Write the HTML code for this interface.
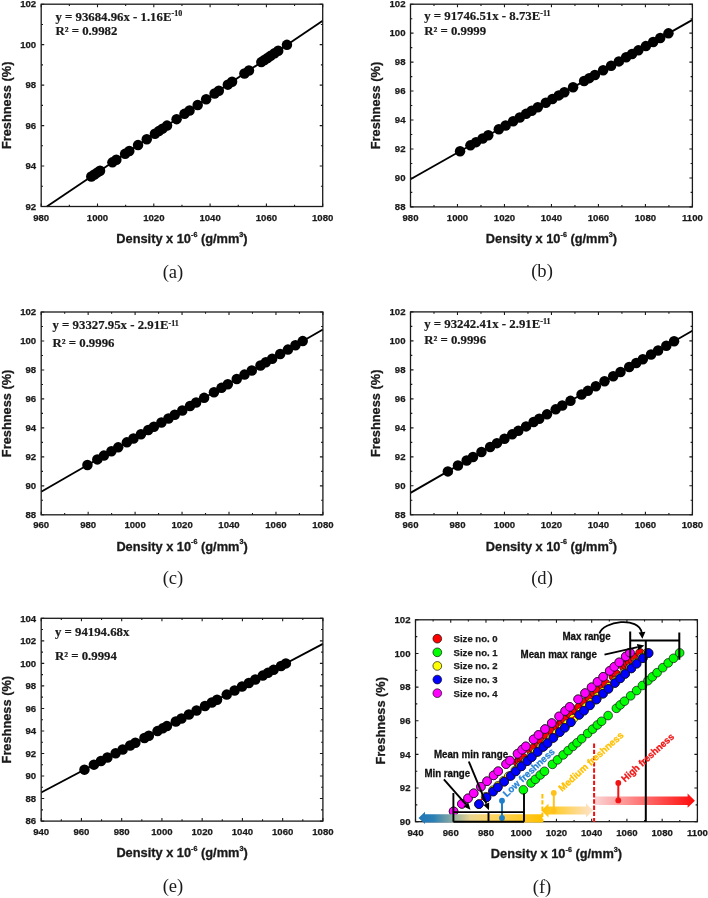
<!DOCTYPE html>
<html lang="en"><head><meta charset="utf-8"><title>Freshness vs density</title>
<style>html,body{margin:0;padding:0;background:#fff}body{width:708px;height:898px;overflow:hidden}</style>
</head><body>
<svg width="708" height="898" viewBox="0 0 708 898" style="display:block">
<rect width="708" height="898" fill="#ffffff"/>
<line x1="46.87" y1="206.5" x2="322.7" y2="20.79" stroke="#000" stroke-width="1.85"/>
<g fill="#000">
<circle cx="91.31" cy="176.58" r="5.25"/>
<circle cx="94.4" cy="174.5" r="5.25"/>
<circle cx="97.5" cy="172.41" r="5.25"/>
<circle cx="100.03" cy="170.71" r="5.25"/>
<circle cx="112.42" cy="162.37" r="5.25"/>
<circle cx="116.36" cy="159.72" r="5.25"/>
<circle cx="125.09" cy="153.84" r="5.25"/>
<circle cx="129.31" cy="151" r="5.25"/>
<circle cx="138.04" cy="145.12" r="5.25"/>
<circle cx="146.76" cy="139.25" r="5.25"/>
<circle cx="154.93" cy="133.75" r="5.25"/>
<circle cx="158.87" cy="131.1" r="5.25"/>
<circle cx="162.53" cy="128.63" r="5.25"/>
<circle cx="167.03" cy="125.6" r="5.25"/>
<circle cx="176.6" cy="119.16" r="5.25"/>
<circle cx="184.48" cy="113.85" r="5.25"/>
<circle cx="189.55" cy="110.44" r="5.25"/>
<circle cx="197.71" cy="104.94" r="5.25"/>
<circle cx="206.16" cy="99.26" r="5.25"/>
<circle cx="214.6" cy="93.57" r="5.25"/>
<circle cx="218.83" cy="90.73" r="5.25"/>
<circle cx="227.83" cy="84.66" r="5.25"/>
<circle cx="232.06" cy="81.82" r="5.25"/>
<circle cx="244.44" cy="73.48" r="5.25"/>
<circle cx="248.95" cy="70.45" r="5.25"/>
<circle cx="261.33" cy="62.11" r="5.25"/>
<circle cx="264.43" cy="60.03" r="5.25"/>
<circle cx="267.53" cy="57.94" r="5.25"/>
<circle cx="270.62" cy="55.86" r="5.25"/>
<circle cx="274.56" cy="53.2" r="5.25"/>
<circle cx="278.22" cy="50.74" r="5.25"/>
<circle cx="286.95" cy="44.86" r="5.25"/>
</g>
<path d="M41.2 206.5v-3.0M41.2 4.2v3.0M69.35 206.5v-1.8M69.35 4.2v1.8M97.5 206.5v-3.0M97.5 4.2v3.0M125.65 206.5v-1.8M125.65 4.2v1.8M153.8 206.5v-3.0M153.8 4.2v3.0M181.95 206.5v-1.8M181.95 4.2v1.8M210.1 206.5v-3.0M210.1 4.2v3.0M238.25 206.5v-1.8M238.25 4.2v1.8M266.4 206.5v-3.0M266.4 4.2v3.0M294.55 206.5v-1.8M294.55 4.2v1.8M322.7 206.5v-3.0M322.7 4.2v3.0M41.2 206.5h3.0M322.7 206.5h-3.0M41.2 186.27h1.8M322.7 186.27h-1.8M41.2 166.04h3.0M322.7 166.04h-3.0M41.2 145.81h1.8M322.7 145.81h-1.8M41.2 125.58h3.0M322.7 125.58h-3.0M41.2 105.35h1.8M322.7 105.35h-1.8M41.2 85.12h3.0M322.7 85.12h-3.0M41.2 64.89h1.8M322.7 64.89h-1.8M41.2 44.66h3.0M322.7 44.66h-3.0M41.2 24.43h1.8M322.7 24.43h-1.8M41.2 4.2h3.0M322.7 4.2h-3.0" stroke="#1a1a1a" stroke-width="1.1" fill="none"/>
<rect x="41.2" y="4.2" width="281.5" height="202.3" fill="none" stroke="#1a1a1a" stroke-width="1.3"/>
<g font-family="'Liberation Sans', Arial, Helvetica, sans-serif" font-weight="bold" font-size="9.6" fill="#1a1a1a" stroke="#1a1a1a" stroke-width="0.25">
<g text-anchor="middle">
<text x="41.2" y="220.6">980</text>
<text x="97.5" y="220.6">1000</text>
<text x="153.8" y="220.6">1020</text>
<text x="210.1" y="220.6">1040</text>
<text x="266.4" y="220.6">1060</text>
<text x="322.7" y="220.6">1080</text>
</g><g text-anchor="end">
<text x="36.2" y="209.7">92</text>
<text x="36.2" y="169.24">94</text>
<text x="36.2" y="128.78">96</text>
<text x="36.2" y="88.32">98</text>
<text x="36.2" y="47.86">100</text>
<text x="36.2" y="7.4">102</text>
</g></g>
<g font-family="'Liberation Sans', Arial, Helvetica, sans-serif" font-weight="bold" font-size="12.8" fill="#1a1a1a" stroke="#1a1a1a" stroke-width="0.3" text-anchor="middle">
<text x="181.95" y="243.4">Density x 10<tspan font-size="7.2" dy="-6.3">-6</tspan><tspan dy="6.3"> (g/mm</tspan><tspan font-size="7.2" dy="-6.3">3</tspan><tspan dy="6.3">)</tspan></text>
<text transform="translate(10.9 105.35) rotate(-90)">Freshness (%)</text>
</g>
<text x="173" y="278.2" font-family="'Liberation Serif', 'Times New Roman', serif" font-size="18.6" fill="#1a1a1a" text-anchor="middle">(a)</text>
<g font-family="'Liberation Serif', 'Times New Roman', serif" font-weight="bold" font-size="12.8" fill="#1a1a1a" stroke="#1a1a1a" stroke-width="0.2">
<text x="55.4" y="21">y = 93684.96x - 1.16E<tspan font-size="8" dy="-4.7">-10</tspan></text>
<text x="55.4" y="35.4">R² = 0.9982</text>
</g>
<line x1="410.5" y1="179.22" x2="692.4" y2="19.82" stroke="#000" stroke-width="1.85"/>
<g fill="#000">
<circle cx="460.07" cy="151.19" r="5.25"/>
<circle cx="470.4" cy="145.35" r="5.25"/>
<circle cx="476.04" cy="142.16" r="5.25"/>
<circle cx="482.62" cy="138.44" r="5.25"/>
<circle cx="488.26" cy="135.25" r="5.25"/>
<circle cx="498.83" cy="129.28" r="5.25"/>
<circle cx="505.64" cy="125.42" r="5.25"/>
<circle cx="513.16" cy="121.17" r="5.25"/>
<circle cx="519.74" cy="117.45" r="5.25"/>
<circle cx="526.08" cy="113.87" r="5.25"/>
<circle cx="531.72" cy="110.68" r="5.25"/>
<circle cx="537.82" cy="107.23" r="5.25"/>
<circle cx="545.81" cy="102.71" r="5.25"/>
<circle cx="552.39" cy="98.99" r="5.25"/>
<circle cx="558.73" cy="95.4" r="5.25"/>
<circle cx="564.37" cy="92.22" r="5.25"/>
<circle cx="573.06" cy="87.3" r="5.25"/>
<circle cx="584.1" cy="81.06" r="5.25"/>
<circle cx="589.27" cy="78.13" r="5.25"/>
<circle cx="594.91" cy="74.95" r="5.25"/>
<circle cx="603.13" cy="70.3" r="5.25"/>
<circle cx="611.12" cy="65.78" r="5.25"/>
<circle cx="618.87" cy="61.4" r="5.25"/>
<circle cx="626.15" cy="57.28" r="5.25"/>
<circle cx="632.03" cy="53.96" r="5.25"/>
<circle cx="638.37" cy="50.37" r="5.25"/>
<circle cx="645.89" cy="46.12" r="5.25"/>
<circle cx="653.17" cy="42" r="5.25"/>
<circle cx="660.22" cy="38.02" r="5.25"/>
<circle cx="668.44" cy="33.37" r="5.25"/>
</g>
<path d="M410.5 206.9v-3.0M410.5 4.2v3.0M433.99 206.9v-1.8M433.99 4.2v1.8M457.48 206.9v-3.0M457.48 4.2v3.0M480.98 206.9v-1.8M480.98 4.2v1.8M504.47 206.9v-3.0M504.47 4.2v3.0M527.96 206.9v-1.8M527.96 4.2v1.8M551.45 206.9v-3.0M551.45 4.2v3.0M574.94 206.9v-1.8M574.94 4.2v1.8M598.43 206.9v-3.0M598.43 4.2v3.0M621.92 206.9v-1.8M621.92 4.2v1.8M645.42 206.9v-3.0M645.42 4.2v3.0M668.91 206.9v-1.8M668.91 4.2v1.8M692.4 206.9v-3.0M692.4 4.2v3.0M410.5 206.9h3.0M692.4 206.9h-3.0M410.5 192.42h1.8M692.4 192.42h-1.8M410.5 177.94h3.0M692.4 177.94h-3.0M410.5 163.46h1.8M692.4 163.46h-1.8M410.5 148.99h3.0M692.4 148.99h-3.0M410.5 134.51h1.8M692.4 134.51h-1.8M410.5 120.03h3.0M692.4 120.03h-3.0M410.5 105.55h1.8M692.4 105.55h-1.8M410.5 91.07h3.0M692.4 91.07h-3.0M410.5 76.59h1.8M692.4 76.59h-1.8M410.5 62.11h3.0M692.4 62.11h-3.0M410.5 47.64h1.8M692.4 47.64h-1.8M410.5 33.16h3.0M692.4 33.16h-3.0M410.5 18.68h1.8M692.4 18.68h-1.8M410.5 4.2h3.0M692.4 4.2h-3.0" stroke="#1a1a1a" stroke-width="1.1" fill="none"/>
<rect x="410.5" y="4.2" width="281.9" height="202.7" fill="none" stroke="#1a1a1a" stroke-width="1.3"/>
<g font-family="'Liberation Sans', Arial, Helvetica, sans-serif" font-weight="bold" font-size="9.6" fill="#1a1a1a" stroke="#1a1a1a" stroke-width="0.25">
<g text-anchor="middle">
<text x="410.5" y="220.7">980</text>
<text x="457.48" y="220.7">1000</text>
<text x="504.47" y="220.7">1020</text>
<text x="551.45" y="220.7">1040</text>
<text x="598.43" y="220.7">1060</text>
<text x="645.42" y="220.7">1080</text>
<text x="692.4" y="220.7">1100</text>
</g><g text-anchor="end">
<text x="405.5" y="210.1">88</text>
<text x="405.5" y="181.14">90</text>
<text x="405.5" y="152.19">92</text>
<text x="405.5" y="123.23">94</text>
<text x="405.5" y="94.27">96</text>
<text x="405.5" y="65.31">98</text>
<text x="405.5" y="36.36">100</text>
<text x="405.5" y="7.4">102</text>
</g></g>
<g font-family="'Liberation Sans', Arial, Helvetica, sans-serif" font-weight="bold" font-size="12.8" fill="#1a1a1a" stroke="#1a1a1a" stroke-width="0.3" text-anchor="middle">
<text x="551.45" y="243.1">Density x 10<tspan font-size="7.2" dy="-6.3">-6</tspan><tspan dy="6.3"> (g/mm</tspan><tspan font-size="7.2" dy="-6.3">3</tspan><tspan dy="6.3">)</tspan></text>
<text transform="translate(380.2 105.55) rotate(-90)">Freshness (%)</text>
</g>
<text x="542" y="277.4" font-family="'Liberation Serif', 'Times New Roman', serif" font-size="18.6" fill="#1a1a1a" text-anchor="middle">(b)</text>
<g font-family="'Liberation Serif', 'Times New Roman', serif" font-weight="bold" font-size="12.8" fill="#1a1a1a" stroke="#1a1a1a" stroke-width="0.2">
<text x="424.2" y="20.4">y = 91746.51x - 8.73E<tspan font-size="8" dy="-4.1">-11</tspan></text>
<text x="424.2" y="34.7">R² = 0.9999</text>
</g>
<line x1="41.2" y1="491.7" x2="322.9" y2="329.47" stroke="#000" stroke-width="1.85"/>
<g fill="#000">
<circle cx="87.45" cy="465.06" r="5.25"/>
<circle cx="97.31" cy="459.39" r="5.25"/>
<circle cx="103.88" cy="455.6" r="5.25"/>
<circle cx="111.39" cy="451.28" r="5.25"/>
<circle cx="118.2" cy="447.35" r="5.25"/>
<circle cx="126.88" cy="442.35" r="5.25"/>
<circle cx="133.46" cy="438.57" r="5.25"/>
<circle cx="140.97" cy="434.24" r="5.25"/>
<circle cx="148.25" cy="430.05" r="5.25"/>
<circle cx="153.88" cy="426.81" r="5.25"/>
<circle cx="161.39" cy="422.48" r="5.25"/>
<circle cx="168.43" cy="418.42" r="5.25"/>
<circle cx="174.77" cy="414.77" r="5.25"/>
<circle cx="182.28" cy="410.45" r="5.25"/>
<circle cx="190.03" cy="405.99" r="5.25"/>
<circle cx="196.13" cy="402.47" r="5.25"/>
<circle cx="204.12" cy="397.87" r="5.25"/>
<circle cx="213.98" cy="392.2" r="5.25"/>
<circle cx="221.49" cy="387.87" r="5.25"/>
<circle cx="227.83" cy="384.22" r="5.25"/>
<circle cx="236.75" cy="379.08" r="5.25"/>
<circle cx="244.49" cy="374.62" r="5.25"/>
<circle cx="251.77" cy="370.43" r="5.25"/>
<circle cx="260.46" cy="365.43" r="5.25"/>
<circle cx="265.86" cy="362.32" r="5.25"/>
<circle cx="272.19" cy="358.67" r="5.25"/>
<circle cx="280.18" cy="354.07" r="5.25"/>
<circle cx="287.92" cy="349.61" r="5.25"/>
<circle cx="295.43" cy="345.28" r="5.25"/>
<circle cx="302.71" cy="341.09" r="5.25"/>
</g>
<path d="M41.2 514.8v-3.0M41.2 312v3.0M64.67 514.8v-1.8M64.67 312v1.8M88.15 514.8v-3.0M88.15 312v3.0M111.62 514.8v-1.8M111.62 312v1.8M135.1 514.8v-3.0M135.1 312v3.0M158.57 514.8v-1.8M158.57 312v1.8M182.05 514.8v-3.0M182.05 312v3.0M205.52 514.8v-1.8M205.52 312v1.8M229 514.8v-3.0M229 312v3.0M252.47 514.8v-1.8M252.47 312v1.8M275.95 514.8v-3.0M275.95 312v3.0M299.42 514.8v-1.8M299.42 312v1.8M322.9 514.8v-3.0M322.9 312v3.0M41.2 514.8h3.0M322.9 514.8h-3.0M41.2 500.31h1.8M322.9 500.31h-1.8M41.2 485.83h3.0M322.9 485.83h-3.0M41.2 471.34h1.8M322.9 471.34h-1.8M41.2 456.86h3.0M322.9 456.86h-3.0M41.2 442.37h1.8M322.9 442.37h-1.8M41.2 427.89h3.0M322.9 427.89h-3.0M41.2 413.4h1.8M322.9 413.4h-1.8M41.2 398.91h3.0M322.9 398.91h-3.0M41.2 384.43h1.8M322.9 384.43h-1.8M41.2 369.94h3.0M322.9 369.94h-3.0M41.2 355.46h1.8M322.9 355.46h-1.8M41.2 340.97h3.0M322.9 340.97h-3.0M41.2 326.49h1.8M322.9 326.49h-1.8M41.2 312h3.0M322.9 312h-3.0" stroke="#1a1a1a" stroke-width="1.1" fill="none"/>
<rect x="41.2" y="312" width="281.7" height="202.8" fill="none" stroke="#1a1a1a" stroke-width="1.3"/>
<g font-family="'Liberation Sans', Arial, Helvetica, sans-serif" font-weight="bold" font-size="9.6" fill="#1a1a1a" stroke="#1a1a1a" stroke-width="0.25">
<g text-anchor="middle">
<text x="41.2" y="528.1">960</text>
<text x="88.15" y="528.1">980</text>
<text x="135.1" y="528.1">1000</text>
<text x="182.05" y="528.1">1020</text>
<text x="229" y="528.1">1040</text>
<text x="275.95" y="528.1">1060</text>
<text x="322.9" y="528.1">1080</text>
</g><g text-anchor="end">
<text x="36.2" y="518">88</text>
<text x="36.2" y="489.03">90</text>
<text x="36.2" y="460.06">92</text>
<text x="36.2" y="431.09">94</text>
<text x="36.2" y="402.11">96</text>
<text x="36.2" y="373.14">98</text>
<text x="36.2" y="344.17">100</text>
<text x="36.2" y="315.2">102</text>
</g></g>
<g font-family="'Liberation Sans', Arial, Helvetica, sans-serif" font-weight="bold" font-size="12.8" fill="#1a1a1a" stroke="#1a1a1a" stroke-width="0.3" text-anchor="middle">
<text x="182.05" y="550.5">Density x 10<tspan font-size="7.2" dy="-6.3">-6</tspan><tspan dy="6.3"> (g/mm</tspan><tspan font-size="7.2" dy="-6.3">3</tspan><tspan dy="6.3">)</tspan></text>
<text transform="translate(10.9 413.4) rotate(-90)">Freshness (%)</text>
</g>
<text x="173" y="584.2" font-family="'Liberation Serif', 'Times New Roman', serif" font-size="18.6" fill="#1a1a1a" text-anchor="middle">(c)</text>
<g font-family="'Liberation Serif', 'Times New Roman', serif" font-weight="bold" font-size="12.8" fill="#1a1a1a" stroke="#1a1a1a" stroke-width="0.2">
<text x="52.5" y="329.2">y = 93327.95x - 2.91E<tspan font-size="8" dy="-3.1">-11</tspan></text>
<text x="52.5" y="346.5">R² = 0.9996</text>
</g>
<line x1="410.5" y1="492.88" x2="692.4" y2="330.71" stroke="#000" stroke-width="1.85"/>
<g fill="#000">
<circle cx="447.85" cy="471.39" r="5.25"/>
<circle cx="457.95" cy="465.58" r="5.25"/>
<circle cx="466.65" cy="460.58" r="5.25"/>
<circle cx="472.99" cy="456.93" r="5.25"/>
<circle cx="481.44" cy="452.07" r="5.25"/>
<circle cx="490.14" cy="447.07" r="5.25"/>
<circle cx="496.95" cy="443.15" r="5.25"/>
<circle cx="504.47" cy="438.82" r="5.25"/>
<circle cx="512.22" cy="434.36" r="5.25"/>
<circle cx="518.33" cy="430.85" r="5.25"/>
<circle cx="526.08" cy="426.39" r="5.25"/>
<circle cx="533.6" cy="422.07" r="5.25"/>
<circle cx="539.23" cy="418.82" r="5.25"/>
<circle cx="546.99" cy="414.36" r="5.25"/>
<circle cx="555.68" cy="409.36" r="5.25"/>
<circle cx="562.26" cy="405.58" r="5.25"/>
<circle cx="570.48" cy="400.85" r="5.25"/>
<circle cx="581.52" cy="394.5" r="5.25"/>
<circle cx="587.86" cy="390.85" r="5.25"/>
<circle cx="595.85" cy="386.26" r="5.25"/>
<circle cx="604.54" cy="381.26" r="5.25"/>
<circle cx="613.23" cy="376.26" r="5.25"/>
<circle cx="620.52" cy="372.07" r="5.25"/>
<circle cx="629.21" cy="367.07" r="5.25"/>
<circle cx="636.25" cy="363.01" r="5.25"/>
<circle cx="642.83" cy="359.23" r="5.25"/>
<circle cx="651.05" cy="354.5" r="5.25"/>
<circle cx="658.1" cy="350.44" r="5.25"/>
<circle cx="666.32" cy="345.71" r="5.25"/>
<circle cx="674.08" cy="341.26" r="5.25"/>
</g>
<path d="M410.5 514.8v-3.0M410.5 311.9v3.0M433.99 514.8v-1.8M433.99 311.9v1.8M457.48 514.8v-3.0M457.48 311.9v3.0M480.98 514.8v-1.8M480.98 311.9v1.8M504.47 514.8v-3.0M504.47 311.9v3.0M527.96 514.8v-1.8M527.96 311.9v1.8M551.45 514.8v-3.0M551.45 311.9v3.0M574.94 514.8v-1.8M574.94 311.9v1.8M598.43 514.8v-3.0M598.43 311.9v3.0M621.92 514.8v-1.8M621.92 311.9v1.8M645.42 514.8v-3.0M645.42 311.9v3.0M668.91 514.8v-1.8M668.91 311.9v1.8M692.4 514.8v-3.0M692.4 311.9v3.0M410.5 514.8h3.0M692.4 514.8h-3.0M410.5 500.31h1.8M692.4 500.31h-1.8M410.5 485.81h3.0M692.4 485.81h-3.0M410.5 471.32h1.8M692.4 471.32h-1.8M410.5 456.83h3.0M692.4 456.83h-3.0M410.5 442.34h1.8M692.4 442.34h-1.8M410.5 427.84h3.0M692.4 427.84h-3.0M410.5 413.35h1.8M692.4 413.35h-1.8M410.5 398.86h3.0M692.4 398.86h-3.0M410.5 384.36h1.8M692.4 384.36h-1.8M410.5 369.87h3.0M692.4 369.87h-3.0M410.5 355.38h1.8M692.4 355.38h-1.8M410.5 340.89h3.0M692.4 340.89h-3.0M410.5 326.39h1.8M692.4 326.39h-1.8M410.5 311.9h3.0M692.4 311.9h-3.0" stroke="#1a1a1a" stroke-width="1.1" fill="none"/>
<rect x="410.5" y="311.9" width="281.9" height="202.9" fill="none" stroke="#1a1a1a" stroke-width="1.3"/>
<g font-family="'Liberation Sans', Arial, Helvetica, sans-serif" font-weight="bold" font-size="9.6" fill="#1a1a1a" stroke="#1a1a1a" stroke-width="0.25">
<g text-anchor="middle">
<text x="410.5" y="528.4">960</text>
<text x="457.48" y="528.4">980</text>
<text x="504.47" y="528.4">1000</text>
<text x="551.45" y="528.4">1020</text>
<text x="598.43" y="528.4">1040</text>
<text x="645.42" y="528.4">1060</text>
<text x="692.4" y="528.4">1080</text>
</g><g text-anchor="end">
<text x="405.5" y="518">88</text>
<text x="405.5" y="489.01">90</text>
<text x="405.5" y="460.03">92</text>
<text x="405.5" y="431.04">94</text>
<text x="405.5" y="402.06">96</text>
<text x="405.5" y="373.07">98</text>
<text x="405.5" y="344.09">100</text>
<text x="405.5" y="315.1">102</text>
</g></g>
<g font-family="'Liberation Sans', Arial, Helvetica, sans-serif" font-weight="bold" font-size="12.8" fill="#1a1a1a" stroke="#1a1a1a" stroke-width="0.3" text-anchor="middle">
<text x="551.45" y="550.5">Density x 10<tspan font-size="7.2" dy="-6.3">-6</tspan><tspan dy="6.3"> (g/mm</tspan><tspan font-size="7.2" dy="-6.3">3</tspan><tspan dy="6.3">)</tspan></text>
<text transform="translate(380.2 413.35) rotate(-90)">Freshness (%)</text>
</g>
<text x="542" y="584.3" font-family="'Liberation Serif', 'Times New Roman', serif" font-size="18.6" fill="#1a1a1a" text-anchor="middle">(d)</text>
<g font-family="'Liberation Serif', 'Times New Roman', serif" font-weight="bold" font-size="12.8" fill="#1a1a1a" stroke="#1a1a1a" stroke-width="0.2">
<text x="424.2" y="327.6">y = 93242.41x - 2.91E<tspan font-size="8" dy="-4.1">-11</tspan></text>
<text x="424.2" y="344.3">R² = 0.9996</text>
</g>
<line x1="41.2" y1="792.45" x2="322.9" y2="643.87" stroke="#000" stroke-width="1.85"/>
<g fill="#000">
<circle cx="84.46" cy="769.63" r="5.25"/>
<circle cx="93.92" cy="764.64" r="5.25"/>
<circle cx="100.96" cy="760.93" r="5.25"/>
<circle cx="107.4" cy="757.53" r="5.25"/>
<circle cx="115.65" cy="753.18" r="5.25"/>
<circle cx="122.69" cy="749.47" r="5.25"/>
<circle cx="130.14" cy="745.54" r="5.25"/>
<circle cx="135.37" cy="742.78" r="5.25"/>
<circle cx="144.42" cy="738.01" r="5.25"/>
<circle cx="148.85" cy="735.67" r="5.25"/>
<circle cx="157.5" cy="731.11" r="5.25"/>
<circle cx="162.73" cy="728.35" r="5.25"/>
<circle cx="166.96" cy="726.12" r="5.25"/>
<circle cx="175.81" cy="721.45" r="5.25"/>
<circle cx="181.45" cy="718.48" r="5.25"/>
<circle cx="188.89" cy="714.55" r="5.25"/>
<circle cx="196.54" cy="710.52" r="5.25"/>
<circle cx="204.99" cy="706.06" r="5.25"/>
<circle cx="211.83" cy="702.45" r="5.25"/>
<circle cx="217.06" cy="699.69" r="5.25"/>
<circle cx="226.72" cy="694.6" r="5.25"/>
<circle cx="234.57" cy="690.46" r="5.25"/>
<circle cx="242.01" cy="686.54" r="5.25"/>
<circle cx="248.85" cy="682.93" r="5.25"/>
<circle cx="255.29" cy="679.53" r="5.25"/>
<circle cx="262.74" cy="675.6" r="5.25"/>
<circle cx="267.97" cy="672.84" r="5.25"/>
<circle cx="273.6" cy="669.87" r="5.25"/>
<circle cx="281.05" cy="665.95" r="5.25"/>
<circle cx="285.88" cy="663.4" r="5.25"/>
</g>
<path d="M41.2 821.1v-3.0M41.2 618.3v3.0M61.32 821.1v-1.8M61.32 618.3v1.8M81.44 821.1v-3.0M81.44 618.3v3.0M101.56 821.1v-1.8M101.56 618.3v1.8M121.69 821.1v-3.0M121.69 618.3v3.0M141.81 821.1v-1.8M141.81 618.3v1.8M161.93 821.1v-3.0M161.93 618.3v3.0M182.05 821.1v-1.8M182.05 618.3v1.8M202.17 821.1v-3.0M202.17 618.3v3.0M222.29 821.1v-1.8M222.29 618.3v1.8M242.41 821.1v-3.0M242.41 618.3v3.0M262.54 821.1v-1.8M262.54 618.3v1.8M282.66 821.1v-3.0M282.66 618.3v3.0M302.78 821.1v-1.8M302.78 618.3v1.8M322.9 821.1v-3.0M322.9 618.3v3.0M41.2 821.1h3.0M322.9 821.1h-3.0M41.2 809.83h1.8M322.9 809.83h-1.8M41.2 798.57h3.0M322.9 798.57h-3.0M41.2 787.3h1.8M322.9 787.3h-1.8M41.2 776.03h3.0M322.9 776.03h-3.0M41.2 764.77h1.8M322.9 764.77h-1.8M41.2 753.5h3.0M322.9 753.5h-3.0M41.2 742.23h1.8M322.9 742.23h-1.8M41.2 730.97h3.0M322.9 730.97h-3.0M41.2 719.7h1.8M322.9 719.7h-1.8M41.2 708.43h3.0M322.9 708.43h-3.0M41.2 697.17h1.8M322.9 697.17h-1.8M41.2 685.9h3.0M322.9 685.9h-3.0M41.2 674.63h1.8M322.9 674.63h-1.8M41.2 663.37h3.0M322.9 663.37h-3.0M41.2 652.1h1.8M322.9 652.1h-1.8M41.2 640.83h3.0M322.9 640.83h-3.0M41.2 629.57h1.8M322.9 629.57h-1.8M41.2 618.3h3.0M322.9 618.3h-3.0" stroke="#1a1a1a" stroke-width="1.1" fill="none"/>
<rect x="41.2" y="618.3" width="281.7" height="202.8" fill="none" stroke="#1a1a1a" stroke-width="1.3"/>
<g font-family="'Liberation Sans', Arial, Helvetica, sans-serif" font-weight="bold" font-size="9.6" fill="#1a1a1a" stroke="#1a1a1a" stroke-width="0.25">
<g text-anchor="middle">
<text x="41.2" y="834.6">940</text>
<text x="81.44" y="834.6">960</text>
<text x="121.69" y="834.6">980</text>
<text x="161.93" y="834.6">1000</text>
<text x="202.17" y="834.6">1020</text>
<text x="242.41" y="834.6">1040</text>
<text x="282.66" y="834.6">1060</text>
<text x="322.9" y="834.6">1080</text>
</g><g text-anchor="end">
<text x="36.2" y="824.3">86</text>
<text x="36.2" y="801.77">88</text>
<text x="36.2" y="779.23">90</text>
<text x="36.2" y="756.7">92</text>
<text x="36.2" y="734.17">94</text>
<text x="36.2" y="711.63">96</text>
<text x="36.2" y="689.1">98</text>
<text x="36.2" y="666.57">100</text>
<text x="36.2" y="644.03">102</text>
<text x="36.2" y="621.5">104</text>
</g></g>
<g font-family="'Liberation Sans', Arial, Helvetica, sans-serif" font-weight="bold" font-size="12.8" fill="#1a1a1a" stroke="#1a1a1a" stroke-width="0.3" text-anchor="middle">
<text x="182.05" y="857.3">Density x 10<tspan font-size="7.2" dy="-6.3">-6</tspan><tspan dy="6.3"> (g/mm</tspan><tspan font-size="7.2" dy="-6.3">3</tspan><tspan dy="6.3">)</tspan></text>
<text transform="translate(10.9 719.7) rotate(-90)">Freshness (%)</text>
</g>
<text x="173" y="891.8" font-family="'Liberation Serif', 'Times New Roman', serif" font-size="18.6" fill="#1a1a1a" text-anchor="middle">(e)</text>
<g font-family="'Liberation Serif', 'Times New Roman', serif" font-weight="bold" font-size="12.8" fill="#1a1a1a" stroke="#1a1a1a" stroke-width="0.2">
<text x="54.9" y="636.2">y = 94194.68x</text>
<text x="54.9" y="659.9">R² = 0.9994</text>
</g>
<defs>
<linearGradient id="gB" x1="0" x2="1" y1="0" y2="0"><stop offset="0" stop-color="#1f77b8"/><stop offset="0.12" stop-color="#2a7fb5"/><stop offset="0.42" stop-color="#e9d48e"/><stop offset="0.6" stop-color="#ffd560"/><stop offset="1" stop-color="#ffc000"/></linearGradient>
<linearGradient id="gY" x1="0" x2="1" y1="0" y2="0"><stop offset="0" stop-color="#ffc000"/><stop offset="0.35" stop-color="#ffcf40"/><stop offset="1" stop-color="#fde3cf"/></linearGradient>
<linearGradient id="gR" x1="0" x2="1" y1="0" y2="0"><stop offset="0" stop-color="#fbd3d3"/><stop offset="0.5" stop-color="#ff6d6d"/><stop offset="1" stop-color="#ff0a0a"/></linearGradient>
</defs>
<g fill="#ff0000" stroke="#111" stroke-width="0.7">
<circle cx="517.54" cy="762.37" r="4.35"/>
<circle cx="519.47" cy="760.63" r="4.35"/>
<circle cx="521.41" cy="758.9" r="4.35"/>
<circle cx="523" cy="757.48" r="4.35"/>
<circle cx="530.75" cy="750.55" r="4.35"/>
<circle cx="533.22" cy="748.34" r="4.35"/>
<circle cx="538.68" cy="743.45" r="4.35"/>
<circle cx="541.32" cy="741.09" r="4.35"/>
<circle cx="546.78" cy="736.2" r="4.35"/>
<circle cx="552.25" cy="731.32" r="4.35"/>
<circle cx="557.35" cy="726.75" r="4.35"/>
<circle cx="559.82" cy="724.54" r="4.35"/>
<circle cx="562.11" cy="722.49" r="4.35"/>
<circle cx="564.93" cy="719.97" r="4.35"/>
<circle cx="570.92" cy="714.61" r="4.35"/>
<circle cx="575.85" cy="710.19" r="4.35"/>
<circle cx="579.03" cy="707.36" r="4.35"/>
<circle cx="584.14" cy="702.79" r="4.35"/>
<circle cx="589.42" cy="698.06" r="4.35"/>
<circle cx="594.71" cy="693.33" r="4.35"/>
<circle cx="597.35" cy="690.96" r="4.35"/>
<circle cx="602.99" cy="685.92" r="4.35"/>
<circle cx="605.63" cy="683.56" r="4.35"/>
<circle cx="613.38" cy="676.62" r="4.35"/>
<circle cx="616.2" cy="674.1" r="4.35"/>
<circle cx="623.95" cy="667.16" r="4.35"/>
<circle cx="625.89" cy="665.43" r="4.35"/>
<circle cx="627.83" cy="663.7" r="4.35"/>
<circle cx="629.77" cy="661.96" r="4.35"/>
<circle cx="632.23" cy="659.75" r="4.35"/>
<circle cx="634.52" cy="657.71" r="4.35"/>
<circle cx="639.99" cy="652.82" r="4.35"/>
</g>
<g fill="#00ff00" stroke="#111" stroke-width="0.7">
<circle cx="523.35" cy="789.82" r="4.35"/>
<circle cx="531.1" cy="783.02" r="4.35"/>
<circle cx="535.33" cy="779.32" r="4.35"/>
<circle cx="540.26" cy="775" r="4.35"/>
<circle cx="544.49" cy="771.29" r="4.35"/>
<circle cx="552.42" cy="764.35" r="4.35"/>
<circle cx="557.53" cy="759.87" r="4.35"/>
<circle cx="563.17" cy="754.93" r="4.35"/>
<circle cx="568.1" cy="750.61" r="4.35"/>
<circle cx="572.86" cy="746.44" r="4.35"/>
<circle cx="577.09" cy="742.74" r="4.35"/>
<circle cx="581.67" cy="738.72" r="4.35"/>
<circle cx="587.66" cy="733.47" r="4.35"/>
<circle cx="592.59" cy="729.15" r="4.35"/>
<circle cx="597.35" cy="724.98" r="4.35"/>
<circle cx="601.58" cy="721.28" r="4.35"/>
<circle cx="608.1" cy="715.57" r="4.35"/>
<circle cx="616.38" cy="708.31" r="4.35"/>
<circle cx="620.25" cy="704.92" r="4.35"/>
<circle cx="624.48" cy="701.21" r="4.35"/>
<circle cx="630.65" cy="695.81" r="4.35"/>
<circle cx="636.64" cy="690.56" r="4.35"/>
<circle cx="642.45" cy="685.47" r="4.35"/>
<circle cx="647.92" cy="680.68" r="4.35"/>
<circle cx="652.32" cy="676.82" r="4.35"/>
<circle cx="657.08" cy="672.66" r="4.35"/>
<circle cx="662.71" cy="667.72" r="4.35"/>
<circle cx="668.18" cy="662.93" r="4.35"/>
<circle cx="673.46" cy="658.3" r="4.35"/>
<circle cx="679.63" cy="652.9" r="4.35"/>
</g>
<g fill="#ffff00" stroke="#111" stroke-width="0.7">
<circle cx="485.65" cy="796.78" r="4.35"/>
<circle cx="493.05" cy="790.19" r="4.35"/>
<circle cx="497.98" cy="785.79" r="4.35"/>
<circle cx="503.62" cy="780.77" r="4.35"/>
<circle cx="508.73" cy="776.21" r="4.35"/>
<circle cx="515.25" cy="770.4" r="4.35"/>
<circle cx="520.18" cy="766.01" r="4.35"/>
<circle cx="525.82" cy="760.98" r="4.35"/>
<circle cx="531.28" cy="756.11" r="4.35"/>
<circle cx="535.51" cy="752.35" r="4.35"/>
<circle cx="541.15" cy="747.32" r="4.35"/>
<circle cx="546.43" cy="742.61" r="4.35"/>
<circle cx="551.19" cy="738.37" r="4.35"/>
<circle cx="556.83" cy="733.35" r="4.35"/>
<circle cx="562.64" cy="728.16" r="4.35"/>
<circle cx="567.22" cy="724.08" r="4.35"/>
<circle cx="573.21" cy="718.74" r="4.35"/>
<circle cx="580.61" cy="712.15" r="4.35"/>
<circle cx="586.25" cy="707.12" r="4.35"/>
<circle cx="591.01" cy="702.88" r="4.35"/>
<circle cx="597.7" cy="696.92" r="4.35"/>
<circle cx="603.52" cy="691.73" r="4.35"/>
<circle cx="608.98" cy="686.87" r="4.35"/>
<circle cx="615.5" cy="681.06" r="4.35"/>
<circle cx="619.55" cy="677.44" r="4.35"/>
<circle cx="624.31" cy="673.21" r="4.35"/>
<circle cx="630.3" cy="667.87" r="4.35"/>
<circle cx="636.11" cy="662.68" r="4.35"/>
<circle cx="641.75" cy="657.66" r="4.35"/>
<circle cx="647.21" cy="652.79" r="4.35"/>
</g>
<g fill="#0000ff" stroke="#111" stroke-width="0.7">
<circle cx="478.95" cy="804.15" r="4.35"/>
<circle cx="486.53" cy="797.41" r="4.35"/>
<circle cx="493.05" cy="791.6" r="4.35"/>
<circle cx="497.8" cy="787.37" r="4.35"/>
<circle cx="504.15" cy="781.72" r="4.35"/>
<circle cx="510.67" cy="775.92" r="4.35"/>
<circle cx="515.77" cy="771.37" r="4.35"/>
<circle cx="521.41" cy="766.35" r="4.35"/>
<circle cx="527.23" cy="761.17" r="4.35"/>
<circle cx="531.81" cy="757.09" r="4.35"/>
<circle cx="537.62" cy="751.91" r="4.35"/>
<circle cx="543.26" cy="746.89" r="4.35"/>
<circle cx="547.49" cy="743.13" r="4.35"/>
<circle cx="553.3" cy="737.95" r="4.35"/>
<circle cx="559.82" cy="732.15" r="4.35"/>
<circle cx="564.75" cy="727.75" r="4.35"/>
<circle cx="570.92" cy="722.26" r="4.35"/>
<circle cx="579.2" cy="714.89" r="4.35"/>
<circle cx="583.96" cy="710.65" r="4.35"/>
<circle cx="589.95" cy="705.32" r="4.35"/>
<circle cx="596.47" cy="699.52" r="4.35"/>
<circle cx="602.99" cy="693.71" r="4.35"/>
<circle cx="608.45" cy="688.85" r="4.35"/>
<circle cx="614.97" cy="683.04" r="4.35"/>
<circle cx="620.25" cy="678.34" r="4.35"/>
<circle cx="625.19" cy="673.94" r="4.35"/>
<circle cx="631.35" cy="668.45" r="4.35"/>
<circle cx="636.64" cy="663.75" r="4.35"/>
<circle cx="642.81" cy="658.26" r="4.35"/>
<circle cx="648.62" cy="653.08" r="4.35"/>
</g>
<g fill="#ff00ff" stroke="#111" stroke-width="0.7">
<circle cx="453.58" cy="811.34" r="4.35"/>
<circle cx="461.86" cy="803.89" r="4.35"/>
<circle cx="468.03" cy="798.34" r="4.35"/>
<circle cx="473.67" cy="793.27" r="4.35"/>
<circle cx="480.89" cy="786.78" r="4.35"/>
<circle cx="487.06" cy="781.23" r="4.35"/>
<circle cx="493.57" cy="775.36" r="4.35"/>
<circle cx="498.16" cy="771.24" r="4.35"/>
<circle cx="506.08" cy="764.11" r="4.35"/>
<circle cx="509.96" cy="760.63" r="4.35"/>
<circle cx="517.54" cy="753.81" r="4.35"/>
<circle cx="522.12" cy="749.69" r="4.35"/>
<circle cx="525.82" cy="746.36" r="4.35"/>
<circle cx="533.57" cy="739.39" r="4.35"/>
<circle cx="538.5" cy="734.95" r="4.35"/>
<circle cx="545.02" cy="729.09" r="4.35"/>
<circle cx="551.72" cy="723.07" r="4.35"/>
<circle cx="559.12" cy="716.41" r="4.35"/>
<circle cx="565.11" cy="711.02" r="4.35"/>
<circle cx="569.69" cy="706.9" r="4.35"/>
<circle cx="578.14" cy="699.29" r="4.35"/>
<circle cx="585.02" cy="693.11" r="4.35"/>
<circle cx="591.54" cy="687.25" r="4.35"/>
<circle cx="597.53" cy="681.86" r="4.35"/>
<circle cx="603.16" cy="676.79" r="4.35"/>
<circle cx="609.68" cy="670.92" r="4.35"/>
<circle cx="614.26" cy="666.8" r="4.35"/>
<circle cx="619.2" cy="662.37" r="4.35"/>
<circle cx="625.72" cy="656.5" r="4.35"/>
<circle cx="629.94" cy="652.7" r="4.35"/>
</g>
<line x1="478.93" y1="802.21" x2="642.78" y2="656.06" stroke="#ff0000" stroke-width="1.4" transform="translate(0.2 -0.8)"/>
<g fill="#0000ff" stroke="#111" stroke-width="0.7">
<circle cx="478.95" cy="804.15" r="4.35"/>
<circle cx="486.53" cy="797.41" r="4.35"/>
<circle cx="493.05" cy="791.6" r="4.35"/>
<circle cx="497.8" cy="787.37" r="4.35"/>
<circle cx="504.15" cy="781.72" r="4.35"/>
<circle cx="510.67" cy="775.92" r="4.35"/>
<circle cx="515.77" cy="771.37" r="4.35"/>
<circle cx="521.41" cy="766.35" r="4.35"/>
<circle cx="527.23" cy="761.17" r="4.35"/>
<circle cx="531.81" cy="757.09" r="4.35"/>
<circle cx="537.62" cy="751.91" r="4.35"/>
<circle cx="543.26" cy="746.89" r="4.35"/>
<circle cx="547.49" cy="743.13" r="4.35"/>
<circle cx="553.3" cy="737.95" r="4.35"/>
<circle cx="559.82" cy="732.15" r="4.35"/>
<circle cx="564.75" cy="727.75" r="4.35"/>
<circle cx="570.92" cy="722.26" r="4.35"/>
<circle cx="579.2" cy="714.89" r="4.35"/>
<circle cx="583.96" cy="710.65" r="4.35"/>
<circle cx="589.95" cy="705.32" r="4.35"/>
<circle cx="596.47" cy="699.52" r="4.35"/>
<circle cx="602.99" cy="693.71" r="4.35"/>
<circle cx="608.45" cy="688.85" r="4.35"/>
<circle cx="614.97" cy="683.04" r="4.35"/>
<circle cx="620.25" cy="678.34" r="4.35"/>
<circle cx="625.19" cy="673.94" r="4.35"/>
<circle cx="631.35" cy="668.45" r="4.35"/>
<circle cx="636.64" cy="663.75" r="4.35"/>
<circle cx="642.81" cy="658.26" r="4.35"/>
<circle cx="648.62" cy="653.08" r="4.35"/>
</g>
<g fill="#ff00ff" stroke="#111" stroke-width="0.7">
<circle cx="453.58" cy="811.34" r="4.35"/>
<circle cx="461.86" cy="803.89" r="4.35"/>
<circle cx="468.03" cy="798.34" r="4.35"/>
<circle cx="473.67" cy="793.27" r="4.35"/>
<circle cx="480.89" cy="786.78" r="4.35"/>
<circle cx="487.06" cy="781.23" r="4.35"/>
<circle cx="493.57" cy="775.36" r="4.35"/>
<circle cx="498.16" cy="771.24" r="4.35"/>
<circle cx="506.08" cy="764.11" r="4.35"/>
<circle cx="509.96" cy="760.63" r="4.35"/>
<circle cx="517.54" cy="753.81" r="4.35"/>
<circle cx="522.12" cy="749.69" r="4.35"/>
<circle cx="525.82" cy="746.36" r="4.35"/>
<circle cx="533.57" cy="739.39" r="4.35"/>
<circle cx="538.5" cy="734.95" r="4.35"/>
<circle cx="545.02" cy="729.09" r="4.35"/>
<circle cx="551.72" cy="723.07" r="4.35"/>
<circle cx="559.12" cy="716.41" r="4.35"/>
<circle cx="565.11" cy="711.02" r="4.35"/>
<circle cx="569.69" cy="706.9" r="4.35"/>
<circle cx="578.14" cy="699.29" r="4.35"/>
<circle cx="585.02" cy="693.11" r="4.35"/>
<circle cx="591.54" cy="687.25" r="4.35"/>
<circle cx="597.53" cy="681.86" r="4.35"/>
<circle cx="603.16" cy="676.79" r="4.35"/>
<circle cx="609.68" cy="670.92" r="4.35"/>
<circle cx="614.26" cy="666.8" r="4.35"/>
<circle cx="619.2" cy="662.37" r="4.35"/>
<circle cx="625.72" cy="656.5" r="4.35"/>
<circle cx="629.94" cy="652.7" r="4.35"/>
</g>
<path d="M415.5 821.7v-3.0M415.5 619.8v3.0M433.12 821.7v-1.8M433.12 619.8v1.8M450.74 821.7v-3.0M450.74 619.8v3.0M468.36 821.7v-1.8M468.36 619.8v1.8M485.98 821.7v-3.0M485.98 619.8v3.0M503.59 821.7v-1.8M503.59 619.8v1.8M521.21 821.7v-3.0M521.21 619.8v3.0M538.83 821.7v-1.8M538.83 619.8v1.8M556.45 821.7v-3.0M556.45 619.8v3.0M574.07 821.7v-1.8M574.07 619.8v1.8M591.69 821.7v-3.0M591.69 619.8v3.0M609.31 821.7v-1.8M609.31 619.8v1.8M626.92 821.7v-3.0M626.92 619.8v3.0M644.54 821.7v-1.8M644.54 619.8v1.8M662.16 821.7v-3.0M662.16 619.8v3.0M679.78 821.7v-1.8M679.78 619.8v1.8M697.4 821.7v-3.0M697.4 619.8v3.0M415.5 821.7h3.0M697.4 821.7h-3.0M415.5 804.88h1.8M697.4 804.88h-1.8M415.5 788.05h3.0M697.4 788.05h-3.0M415.5 771.23h1.8M697.4 771.23h-1.8M415.5 754.4h3.0M697.4 754.4h-3.0M415.5 737.58h1.8M697.4 737.58h-1.8M415.5 720.75h3.0M697.4 720.75h-3.0M415.5 703.92h1.8M697.4 703.92h-1.8M415.5 687.1h3.0M697.4 687.1h-3.0M415.5 670.27h1.8M697.4 670.27h-1.8M415.5 653.45h3.0M697.4 653.45h-3.0M415.5 636.62h1.8M697.4 636.62h-1.8M415.5 619.8h3.0M697.4 619.8h-3.0" stroke="#1a1a1a" stroke-width="1.1" fill="none"/>
<rect x="415.5" y="619.8" width="281.9" height="201.9" fill="none" stroke="#1a1a1a" stroke-width="1.3"/>
<g font-family="'Liberation Sans', Arial, Helvetica, sans-serif" font-weight="bold" font-size="9.6" fill="#1a1a1a" stroke="#1a1a1a" stroke-width="0.25">
<g text-anchor="middle">
<text x="415.5" y="835.7">940</text>
<text x="450.74" y="835.7">960</text>
<text x="485.98" y="835.7">980</text>
<text x="521.21" y="835.7">1000</text>
<text x="556.45" y="835.7">1020</text>
<text x="591.69" y="835.7">1040</text>
<text x="626.92" y="835.7">1060</text>
<text x="662.16" y="835.7">1080</text>
<text x="697.4" y="835.7">1100</text>
</g><g text-anchor="end">
<text x="410.5" y="824.9">90</text>
<text x="410.5" y="791.25">92</text>
<text x="410.5" y="757.6">94</text>
<text x="410.5" y="723.95">96</text>
<text x="410.5" y="690.3">98</text>
<text x="410.5" y="656.65">100</text>
<text x="410.5" y="623">102</text>
</g></g>
<g font-family="'Liberation Sans', Arial, Helvetica, sans-serif" font-weight="bold" font-size="12.8" fill="#1a1a1a" stroke="#1a1a1a" stroke-width="0.3" text-anchor="middle">
<text x="556.45" y="857.9">Density x 10<tspan font-size="7.2" dy="-6.3">-6</tspan><tspan dy="6.3"> (g/mm</tspan><tspan font-size="7.2" dy="-6.3">3</tspan><tspan dy="6.3">)</tspan></text>
<text transform="translate(385.2 720.75) rotate(-90)">Freshness (%)</text>
</g>
<text x="542" y="892.9" font-family="'Liberation Serif', 'Times New Roman', serif" font-size="18.6" fill="#1a1a1a" text-anchor="middle">(f)</text>
<path d="M418.5 818L425 811.8L425 814.2L542.4 814.2L542.4 822.6L425 822.6L425 824Z" fill="url(#gB)"/>
<path d="M541.5 810.5L548.5 803.6L548.5 806.5L586 806.5L586 803.6L593 810.5L586 817.4L586 814.5L548.5 814.5L548.5 817.4Z" fill="url(#gY)"/>
<path d="M594.8 796.4L687.6 796.4L687.6 793.6L694.9 800.7L687.6 807.8L687.6 805L594.8 805Z" fill="url(#gR)"/>
<line x1="542.4" y1="794" x2="542.4" y2="822" stroke="#ffc000" stroke-width="2" stroke-dasharray="4.4 1.8"/>
<line x1="594.1" y1="743.5" x2="594.1" y2="822" stroke="#f01010" stroke-width="2" stroke-dasharray="4.4 1.8"/>
<line x1="502" y1="800.7" x2="502" y2="818" stroke="#1f7ec8" stroke-width="2"/>
<circle cx="502" cy="800.7" r="2.9" fill="#1f7ec8"/><circle cx="502" cy="818" r="2.9" fill="#1f7ec8"/>
<line x1="553.8" y1="792.9" x2="553.8" y2="810.8" stroke="#ffc21a" stroke-width="2"/>
<circle cx="553.8" cy="792.9" r="2.9" fill="#ffc21a"/><circle cx="553.8" cy="810.8" r="2.9" fill="#ffc21a"/>
<line x1="618.3" y1="782.9" x2="618.3" y2="800.4" stroke="#f01414" stroke-width="2"/>
<circle cx="618.3" cy="782.9" r="2.9" fill="#f01414"/><circle cx="618.3" cy="800.4" r="2.9" fill="#f01414"/>
<path d="M630.2 631.4V658.5M630.2 640.4H679.3M679.3 632.5V659.8M645.8 640.4V821.7" stroke="#000" stroke-width="2" fill="none"/>
<path d="M453.4 793.1V821.7M453.4 812.1H524M453.4 821.7H524M488.5 812.1V821.7M524 793.6V821.7" stroke="#000" stroke-width="1.9" fill="none"/>
<line x1="604.5" y1="654.6" x2="637.57" y2="647.14" stroke="#000" stroke-width="1.9"/>
<path d="M644.4 645.6L638.25 650.16L636.89 644.12Z" fill="#000"/>
<line x1="468.8" y1="761.5" x2="486.32" y2="803.73" stroke="#000" stroke-width="1.9"/>
<path d="M489 810.2L483.45 804.92L489.18 802.55Z" fill="#000"/>
<line x1="443.9" y1="779.3" x2="465.89" y2="804.43" stroke="#000" stroke-width="1.9"/>
<path d="M470.5 809.7L463.56 806.47L468.22 802.39Z" fill="#000"/>
<path d="M599.5 633.5C603 621 639 616 641.8 633" stroke="#000" stroke-width="1.8" fill="none"/>
<path d="M642.4 638.8L638.6 632.4L645.4 631.8Z" fill="#000"/>
<g font-family="'Liberation Sans', Arial, Helvetica, sans-serif" font-weight="bold" font-size="9.55" fill="#1a1a1a" stroke="#1a1a1a" stroke-width="0.25">
<circle cx="437.3" cy="638.7" r="4.35" fill="#ff0000" stroke="#111" stroke-width="0.7"/>
<text x="453.6" y="642.2">Size no. 0</text>
<circle cx="437.3" cy="652.32" r="4.35" fill="#00ff00" stroke="#111" stroke-width="0.7"/>
<text x="453.6" y="655.82">Size no. 1</text>
<circle cx="437.3" cy="665.94" r="4.35" fill="#ffff00" stroke="#111" stroke-width="0.7"/>
<text x="453.6" y="669.44">Size no. 2</text>
<circle cx="437.3" cy="679.56" r="4.35" fill="#0000ff" stroke="#111" stroke-width="0.7"/>
<text x="453.6" y="683.06">Size no. 3</text>
<circle cx="437.3" cy="693.18" r="4.35" fill="#ff00ff" stroke="#111" stroke-width="0.7"/>
<text x="453.6" y="696.68">Size no. 4</text>
</g>
<g font-family="'Liberation Sans', Arial, Helvetica, sans-serif" font-weight="bold" font-size="10" fill="#111" stroke="#111" stroke-width="0.3">
<text x="562.5" y="639.7" textLength="48.2" lengthAdjust="spacingAndGlyphs">Max range</text>
<text x="520.5" y="657.5" textLength="76.5" lengthAdjust="spacingAndGlyphs">Mean max range</text>
<text x="433.9" y="757.5" textLength="74.2" lengthAdjust="spacingAndGlyphs">Mean min range</text>
<text x="424.4" y="777" textLength="45.8" lengthAdjust="spacingAndGlyphs">Min range</text>
</g>
<g font-family="'Liberation Sans', Arial, Helvetica, sans-serif" font-weight="bold" font-size="9.7" stroke-width="0.3">
<text transform="translate(506.8 797.4) rotate(-42.8)" fill="#2683d6" stroke="#2683d6" textLength="66.2" lengthAdjust="spacingAndGlyphs">Low freshness</text>
<text transform="translate(562 792) rotate(-42)" fill="#ffc000" stroke="#ffc000" textLength="83.6" lengthAdjust="spacingAndGlyphs">Medium freshness</text>
<text transform="translate(625 782.5) rotate(-42)" fill="#f01414" stroke="#f01414" textLength="67" lengthAdjust="spacingAndGlyphs">High freshness</text>
</g>
</svg>
</body></html>
